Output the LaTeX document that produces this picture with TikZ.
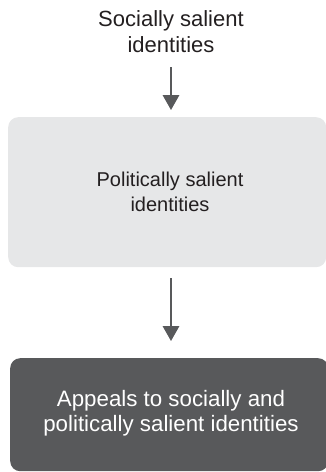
\documentclass[tikz,border=0pt]{standalone}
\usepackage{fontspec}
\setmainfont{Liberation Sans}
\usetikzlibrary{arrows.meta}
\definecolor{boxlight}{HTML}{E6E7E8}
\definecolor{boxdark}{HTML}{58595B}
\definecolor{inkdark}{HTML}{231F20}
\definecolor{arrowgray}{HTML}{58595B}
\tikzset{
  panel/.style={rounded corners=10pt, inner sep=0pt, anchor=north west},
  caption/.style={align=center, inner sep=0pt, anchor=base, text=inkdark},
  flow/.style={draw=arrowgray, line width=1.8pt,
    -{Triangle[width=16.5pt,length=15pt]}},
}
\begin{document}
\begin{tikzpicture}[x=1pt, y=-1pt]
  \useasboundingbox (0,0) rectangle (326,472);
  % stage boxes
  \node[panel, fill=boxlight, minimum width=318pt, minimum height=150pt] (light) at (8,117) {};
  \node[panel, fill=boxdark, minimum width=318pt, minimum height=113pt] (appeal) at (10,358) {};
  % texts (anchored at the baseline of the last line)
  \node[caption, font=\fontsize{22}{26}\selectfont] (top) at (171,52) {Socially salient\\identities};
  \node[caption, font=\fontsize{20}{25}\selectfont] (lighttext) at (170,211.7) {Politically salient\\identities};
  \node[caption, text=white, font=\fontsize{22.3}{25}\selectfont] (appealtext) at (171,431.7) {Appeals to socially and\\politically salient identities};
  % connectors
  \coordinate (a1) at (171,67);
  \draw[flow, shorten >=7pt] (a1) -- (a1 |- light.north);
  \draw[flow, shorten <=11pt, shorten >=17pt] (light.south -| a1) -- (appeal.north -| a1);
\end{tikzpicture}
\end{document}
